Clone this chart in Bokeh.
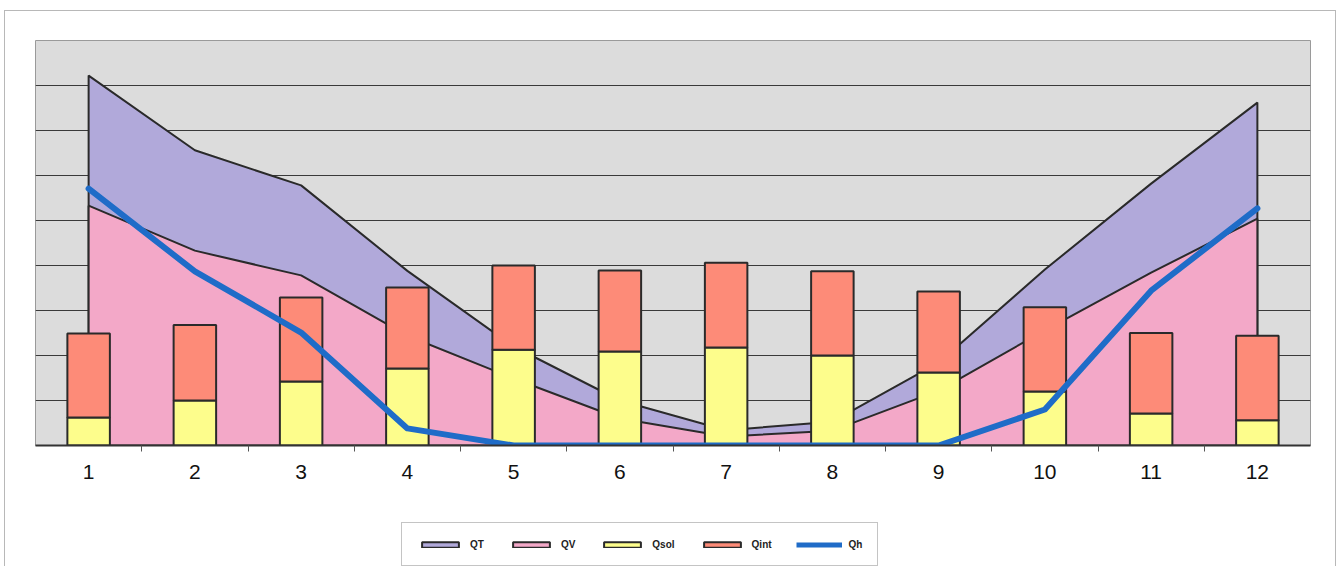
from bokeh.plotting import figure
from bokeh.layouts import column
from bokeh.models import Range1d, FixedTicker, Legend, LegendItem
from bokeh.embed import file_html
from bokeh.resources import INLINE

# Monthly energy balance (arbitrary units, one grid step = 1)
months = [1, 2, 3, 4, 5, 6, 7, 8, 9, 10, 11, 12]
qt = [8.22, 6.56, 5.78, 3.88, 2.20, 1.00, 0.34, 0.53, 1.84, 3.91, 5.82, 7.62]
qv = [5.33, 4.33, 3.78, 2.44, 1.49, 0.60, 0.20, 0.33, 1.22, 2.56, 3.84, 5.04]
qsol = [0.62, 1.00, 1.42, 1.71, 2.13, 2.09, 2.18, 2.00, 1.62, 1.20, 0.71, 0.56]
qint = [1.87, 1.68, 1.87, 1.80, 1.87, 1.80, 1.88, 1.87, 1.80, 1.87, 1.79, 1.88]
qh = [5.71, 3.87, 2.51, 0.38, 0.0, 0.0, 0.0, 0.0, 0.0, 0.80, 3.44, 5.27]
grid_levels = [1, 2, 3, 4, 5, 6, 7, 8]
series_names = ["QT", "QV", "Qsol", "Qint", "Qh"]

OUTLINE = "#2a2a2a"
STYLE_QT = dict(fill_color="#b1a9da", line_color=OUTLINE, line_width=2)
STYLE_QV = dict(fill_color="#f3a8c8", line_color=OUTLINE, line_width=2)
STYLE_SOL = dict(fill_color="#fdfd8c", line_color=OUTLINE, line_width=2)
STYLE_INT = dict(fill_color="#fd8b78", line_color=OUTLINE, line_width=2)
STYLE_QH = dict(line_color="#1f6cc8", line_width=5)

p = figure(
    width=1330, height=490,
    x_range=Range1d(0.5, 12.5), y_range=Range1d(0, 9),
    output_backend="svg", toolbar_location=None,
    min_border_left=30, min_border_right=25,
    min_border_top=29, min_border_bottom=56,
    background_fill_color="#dcdcdc", border_fill_color="white",
)
p.outline_line_color = "#9a9a9a"
p.outline_line_width = 1

p.xgrid.visible = False
p.yaxis.visible = False
p.ygrid.ticker = FixedTicker(ticks=grid_levels)
p.ygrid.grid_line_color = "#3a3a3a"
p.ygrid.grid_line_width = 1

# Areas: closed outlines from the first to the last month
area_x = [months[0]] + months + [months[-1]]
p.patch(area_x, [0] + qt + [0], **STYLE_QT)
p.patch(area_x, [0] + qv + [0], **STYLE_QV)

# Stacked columns: solar gains at the bottom, internal gains on top
tops = [s + i for s, i in zip(qsol, qint)]
p.vbar(x=months, bottom=0, top=qsol, width=0.4, **STYLE_SOL)
p.vbar(x=months, bottom=qsol, top=tops, width=0.4, **STYLE_INT)

# Heating demand
p.line(months, qh, line_join="round", line_cap="round",
       line_color=STYLE_QH["line_color"], line_width=6)

ax = p.xaxis[0]
ax.ticker = FixedTicker(ticks=months,
                        minor_ticks=[m + 0.5 for m in months[:-1]])
ax.major_tick_in = 0
ax.major_tick_out = 0
ax.major_tick_line_color = None
ax.minor_tick_in = 0
ax.minor_tick_out = 6
ax.minor_tick_line_color = "#555555"
ax.axis_line_color = "#333333"
ax.axis_line_width = 2
ax.major_label_text_font = "Liberation Sans"
ax.major_label_text_font_size = "21px"
ax.major_label_text_color = "#111111"
ax.major_label_standoff = 13

# Legend strip under the chart. Its key glyphs are off-range proxies that
# share the series styles, so only the legend keys show.
leg = figure(
    width=1330, height=66,
    x_range=Range1d(0, 1), y_range=Range1d(0, 1),
    x_axis_type=None, y_axis_type=None,
    output_backend="svg", toolbar_location=None,
    min_border=0, background_fill_color="white",
    border_fill_color="white",
)
leg.outline_line_color = None
leg.xgrid.visible = False
leg.ygrid.visible = False
keys = [
    leg.patch([-5, -4, -4], [-5, -5, -4], **STYLE_QT),
    leg.patch([-5, -4, -4], [-5, -5, -4], **STYLE_QV),
    leg.vbar(x=[-5], bottom=[-5], top=[-4], width=0.4, **STYLE_SOL),
    leg.vbar(x=[-5], bottom=[-5], top=[-4], width=0.4, **STYLE_INT),
    leg.line([-5, -4], [-5, -5], **STYLE_QH),
]
legend = Legend(
    items=[LegendItem(label=n, renderers=[r]) for n, r in zip(series_names, keys)],
    orientation="horizontal",
    location=(366, 1),
    glyph_width=46, glyph_height=7,
    label_height=12, label_width=10,
    label_standoff=7, spacing=24, padding=15, margin=0,
    label_text_font="Liberation Sans", label_text_font_size="10px",
    label_text_font_style="bold", label_text_color="#222222",
    border_line_color="#8a8a8a", border_line_width=1,
    background_fill_color="white",
)
leg.add_layout(legend, "center")

page = column(p, leg, spacing=0, margin=(10, 0, 0, 4),
              styles={"border": "1px solid #b8b8b8"})

open("out.html", "w").write(file_html(page, INLINE))
